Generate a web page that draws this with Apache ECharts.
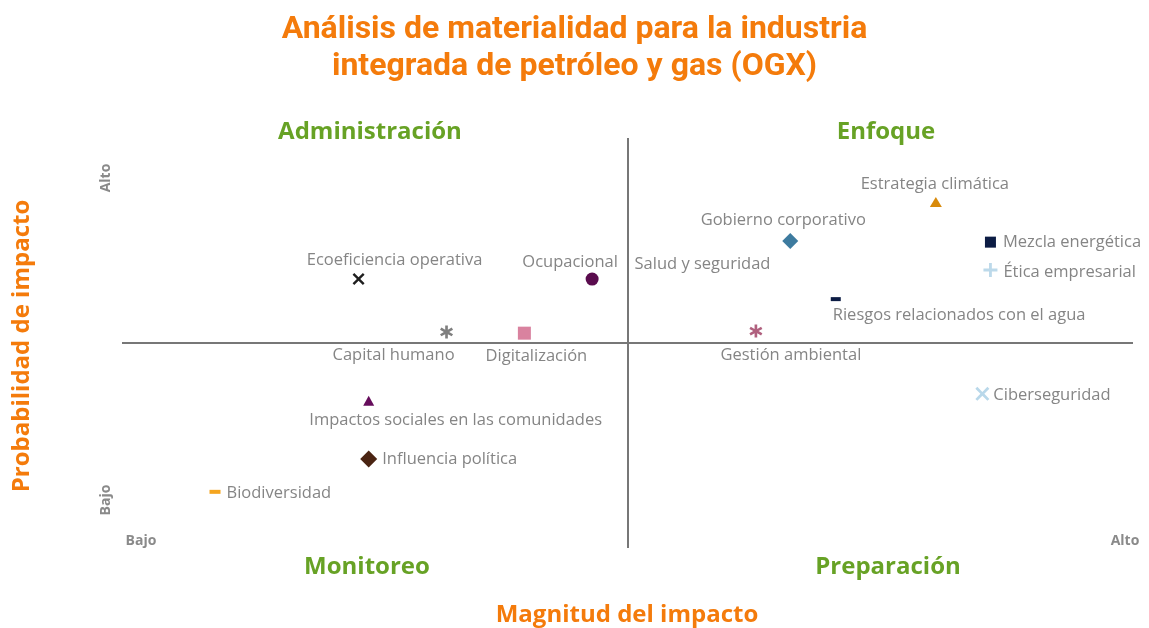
<!DOCTYPE html>
<html>
<head>
<meta charset="utf-8">
<script src="https://cdn.jsdelivr.net/npm/echarts@6/dist/echarts.min.js"></script>
<style>
html,body{margin:0;padding:0;background:#fff;}
#c{width:1149px;height:628px;}
</style>
</head>
<body>
<div id="c"></div>
<script>
// ---- data ----
const names = ['Ecoeficiencia operativa','Ocupacional','Capital humano','Digitalización','Salud y seguridad',
  'Estrategia climática','Gobierno corporativo','Mezcla energética','Ética empresarial','Riesgos relacionados con el agua',
  'Gestión ambiental','Ciberseguridad','Impactos sociales en las comunidades','Influencia política','Biodiversidad'];
const magnitude = [2.34, 4.65, 3.21, 3.98, 5.02, 8.05, 6.61, 8.59, 8.59, 7.06, 6.27, 8.51, 2.44, 2.44, 0.92];
const probability = [6.56, 6.56, 5.27, 5.24, 6.95, 8.44, 7.49, 7.46, 6.78, 6.07, 5.29, 3.76, 3.59, 2.17, 1.37];
const quadrantNames = ['Administración','Enfoque','Monitoreo','Preparación'];
const levelLabels = ['Bajo','Alto'];

// ---- styles ----
const P_X = 'path://M1.4,0 L5,3.6 L8.6,0 L10,1.4 L6.4,5 L10,8.6 L8.6,10 L5,6.4 L1.4,10 L0,8.6 L3.6,5 L0,1.4 Z';
const P_PLUS = 'path://M4,0 H6 V4 H10 V6 H6 V10 H4 V6 H0 V4 H4 Z';
const P_AST = 'path://M4,0 H6 V3.3 L8.9,1.6 L9.9,3.3 L7,5 L9.9,6.7 L8.9,8.4 L6,6.7 V10 H4 V6.7 L1.1,8.4 L0.1,6.7 L3,5 L0.1,3.3 L1.1,1.6 L4,3.3 Z';
const styles = [
  {sym:P_X, size:12, color:'#1f1f1f', pos:'top', off:[36,1]},
  {sym:'circle', size:13, color:'#5a0c4e', pos:'top', off:[-22,3]},
  {sym:P_AST, size:13, color:'#7f7f7f', pos:'bottom', off:[-53,3]},
  {sym:'rect', size:13, color:'#d9829f', pos:'bottom', off:[12,3]},
  {sym:'circle', size:0, color:'#ffffff', pos:'right', off:[0,1]},
  {sym:'triangle', size:[12,10], color:'#d88a0b', pos:'top', off:[-1,1]},
  {sym:'diamond', size:16, color:'#3d7b9f', pos:'top', off:[-7,1]},
  {sym:'rect', size:11, color:'#0c1c44', pos:'right', off:[2,0]},
  {sym:P_PLUS, size:14, color:'#bcd9ea', pos:'right', off:[1,2]},
  {sym:'rect', size:[10,4], color:'#0c1c44', pos:'bottom', off:[-3,1], align:'left'},
  {sym:P_AST, size:13, color:'#b0607e', pos:'bottom', off:[35,4]},
  {sym:P_X, size:14, color:'#b9d8ea', pos:'right', off:[-1,1]},
  {sym:'triangle', size:[11,10], color:'#660d5c', pos:'bottom', off:[87,1]},
  {sym:'diamond', size:17, color:'#4a2412', pos:'right', off:[0,0]},
  {sym:'rect', size:[11,4], color:'#f5a51f', pos:'right', off:[1,1]}
];
const TXT = '#858585', ORANGE = '#f47b0b', GREEN = '#67a225', FONT = 'Open Sans';

const data = names.map((n,i)=>{
  const s = styles[i];
  const lab = {show:true, position:s.pos, offset:s.off, formatter:n, color:TXT, fontSize:16.5, fontFamily:FONT, distance:5};
  if (s.align) lab.align = s.align;
  return {name:n, value:[magnitude[i], probability[i]], symbol:s.sym, symbolSize:s.size,
    itemStyle:{color:s.color, opacity:1}, label:lab};
});

const chart = echarts.init(document.getElementById('c'));
const gl = 122, gr = 16, gt = 138, gb = 80;
const QF = 'bold 24px "Open Sans"';
const LF = 'bold 14px "Open Sans"';
chart.setOption({
  animation:false,
  backgroundColor:'#fff',
  title:{text:'Análisis de materialidad para la industria\nintegrada de petróleo y gas (OGX)', left:'center', top:6,
    textStyle:{color:ORANGE, fontSize:32, fontWeight:'bold', fontFamily:'Roboto', lineHeight:37}},
  grid:{left:gl, right:gr, top:gt, bottom:gb},
  xAxis:{type:'value', min:0, max:10, show:false},
  yAxis:{type:'value', min:0, max:10, show:false},
  graphic:[
    {type:'text', x:370, y:132, style:{text:quadrantNames[0], fill:GREEN, font:QF, align:'center', verticalAlign:'middle'}},
    {type:'text', x:886, y:132, style:{text:quadrantNames[1], fill:GREEN, font:QF, align:'center', verticalAlign:'middle'}},
    {type:'text', x:367, y:567, style:{text:quadrantNames[2], fill:GREEN, font:QF, align:'center', verticalAlign:'middle'}},
    {type:'text', x:888, y:567, style:{text:quadrantNames[3], fill:GREEN, font:QF, align:'center', verticalAlign:'middle'}},
    {type:'text', x:627, y:615, style:{text:'Magnitud del impacto', fill:ORANGE, font:QF, align:'center', verticalAlign:'middle'}},
    {type:'text', x:22, y:346, rotation:Math.PI/2, style:{text:'Probabilidad de impacto', fill:ORANGE, font:QF, align:'center', verticalAlign:'middle'}},
    {type:'text', x:141, y:541, style:{text:levelLabels[0], fill:'#8a8a8a', font:LF, align:'center', verticalAlign:'middle'}},
    {type:'text', x:1125, y:541, style:{text:levelLabels[1], fill:'#8a8a8a', font:LF, align:'center', verticalAlign:'middle'}},
    {type:'text', x:106, y:178, rotation:Math.PI/2, style:{text:levelLabels[1], fill:'#8a8a8a', font:LF, align:'center', verticalAlign:'middle'}},
    {type:'text', x:106, y:500, rotation:Math.PI/2, style:{text:levelLabels[0], fill:'#8a8a8a', font:LF, align:'center', verticalAlign:'middle'}}
  ],
  series:[{
    type:'scatter',
    data:data,
    z:3,
    markLine:{silent:true, symbol:'none', label:{show:false},
      lineStyle:{color:'#777777', width:2, type:'solid'},
      data:[{xAxis:5},{yAxis:5}]}
  }]
});
</script>
</body>
</html>
